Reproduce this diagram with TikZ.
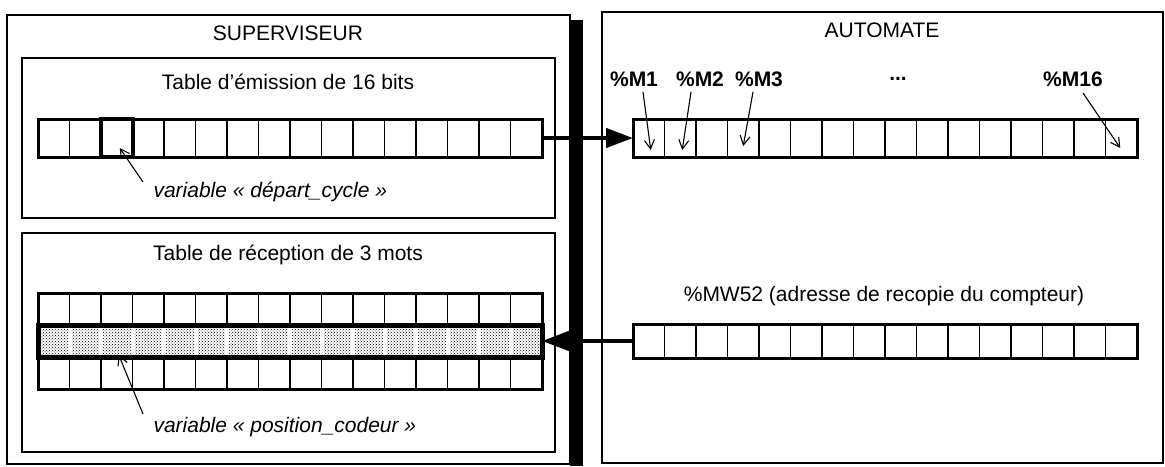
\documentclass[tikz,border=0pt]{standalone}
\usepackage{fontspec}
\setmainfont{Liberation Sans}
\usetikzlibrary{arrows.meta,positioning,patterns,calc}
\tikzset{
  >=Stealth,
}

\begin{document}
\begin{tikzpicture}[x=1pt, y=-1pt,
  panel/.style={draw, line width=1.4pt},
  frame/.style={draw, line width=2pt},
  cell/.style={draw, line width=1.6pt, minimum width=31.5pt, minimum height=38pt, inner sep=0pt, outer sep=0pt},
  word/.style={cell, minimum height=32pt},
  lab/.style={font=\fontsize{21}{25}\selectfont},
  tag/.style={font=\fontsize{21}{25}\selectfont\bfseries},
  note/.style={font=\fontsize{21}{25}\selectfont\itshape, anchor=west},
  ptr/.style={-{Straight Barb[length=9pt,width=10pt]}, line width=1.1pt},
  link/.style={-{Triangle[length=27pt,width=19pt]}, line width=4.5pt},
]
  \useasboundingbox (0,0) rectangle (1165,466);
  % supervisor side
  \draw[panel] (7,15) rectangle (570,464);
  \draw[line width=13pt] (576,20) -- (576,466);
  \draw[frame] (22,58) rectangle (555,218);
  \draw[frame] (22,233) rectangle (555,452);
  \node[lab] (sup) at (288,33) {SUPERVISEUR};
  \node[lab] (emi) at (288,82) {Table d’émission de 16 bits};
  \node[lab] (rec) at (288,255) {Table de réception de 3 mots};

  % emission table
  \foreach \i in {1,...,16}
    \node[cell] (e\i) at ({38+(\i-0.5)*31.5},138) {};
  \draw[line width=3pt] (e1.north west) rectangle (e16.south east);
  \draw[line width=4pt] (e3.north west) rectangle (e3.south east);

  % reception table (3 words)
  \foreach \i in {1,...,16} {
    \node[word] (a\i) at ({38+(\i-0.5)*31.5},309) {};
    \node[word, draw=white, line width=4pt, pattern=crosshatch dots, pattern color=black] (b\i) at ({38+(\i-0.5)*31.5},341) {};
    \node[word] (c\i) at ({38+(\i-0.5)*31.5},373) {};
  }
  \draw[line width=3pt] (a1.north west) rectangle (c16.south east);
  \draw[line width=5pt] (b1.north west) rectangle (b16.south east);

  \node[note] (n1) at (150,192) {variable « départ\_cycle »};
  \node[note] (n2) at (150,427) {variable « position\_codeur »};
  \draw[ptr] ($(n1.west)+(-7,-10)$) -- ($(e3.south)+(3,-9)$);
  \draw[ptr] ($(n2.west)+(-7,-13)$) -- ($(b3.south)+(2,-2)$);

  % automate side
  \draw[panel] (602,12) rectangle (1163,463);
  \node[lab] (aut) at (882,30) {AUTOMATE};
  \foreach \i in {1,...,16} {
    \node[cell] (m\i) at ({633+(\i-0.5)*31.5},138) {};
    \node[cell, minimum height=34pt] (w\i) at ({633+(\i-0.5)*31.5},341) {};
  }
  \draw[line width=3pt] (m1.north west) rectangle (m16.south east);
  \draw[line width=3pt] (w1.north west) rectangle (w16.south east);
  \node[lab] (mw) at (884,296) {\%MW52 (adresse de recopie du compteur)};

  \node[tag] (t1) at (634,79) {\%M1};
  \node[tag] (t2) at (700,79) {\%M2};
  \node[tag] (t3) at (759,79) {\%M3};
  \node[tag] (etc) at (898,79) {...};
  \node[tag] (t16) at (1073,79) {\%M16};
  \draw[ptr] ($(t1.south)+(9,2)$) -- ($(m1.south)+(2,-7)$);
  \draw[ptr] ($(t2.south)+(-9,2)$) -- ($(m2.south)+(2,-7)$);
  \draw[ptr] ($(t3.south)+(-6,2)$) -- ($(m4.south)+(0,-11)$);
  \draw[ptr] ($(t16.south)+(10,3)$) -- ($(m16.south)+(-1,-9)$);

  % exchanges
  \draw[link] (e16.east) -- (m1.west);
  \draw[link] (w1.west) -- (b16.east);
\end{tikzpicture}
\end{document}
